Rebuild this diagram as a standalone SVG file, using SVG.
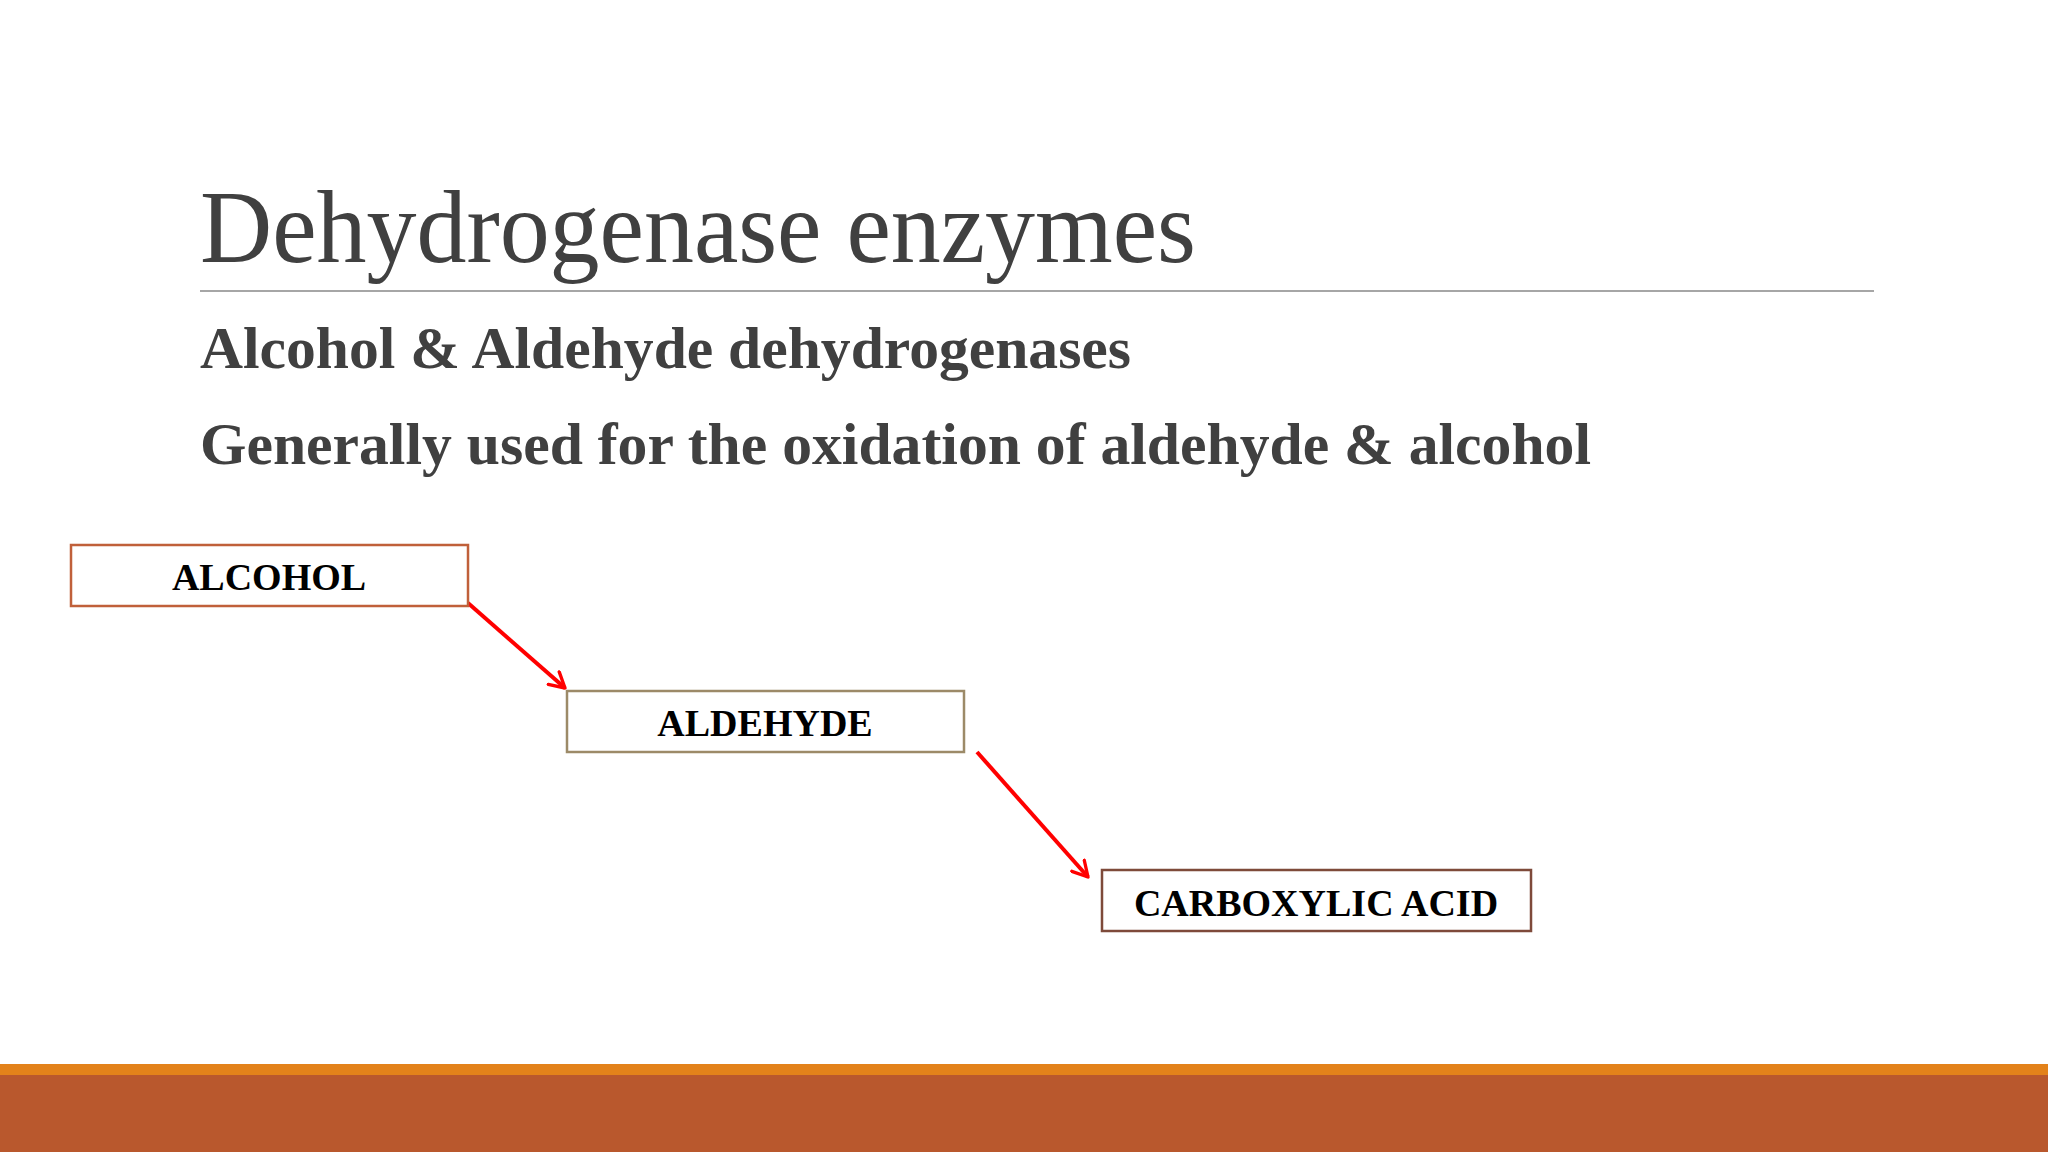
<svg xmlns="http://www.w3.org/2000/svg" width="2048" height="1152" viewBox="0 0 2048 1152">
<style>
.title{font-family:"Liberation Serif","Times New Roman",serif;font-size:104px;fill:#404040}
.sub{font-family:"Liberation Serif","Times New Roman",serif;font-size:60px;font-weight:bold;fill:#404040}
.lbl{font-family:"Liberation Serif","Times New Roman",serif;font-size:38px;font-weight:bold;fill:#000;text-anchor:middle}
.box{fill:#fff;stroke-width:2.5}
.arr{stroke:#ff0000;stroke-width:4;fill:none;marker-end:url(#ah)}
</style>
<defs>
<marker id="ah" viewBox="0 0 12 12" refX="10" refY="6" markerWidth="5" markerHeight="5" orient="auto" markerUnits="strokeWidth">
<path d="M1,1 L10,6 L1,11" fill="none" stroke="#ff0000" stroke-width="2" stroke-linecap="round" stroke-linejoin="round"/>
</marker>
</defs>
<rect width="2048" height="1152" fill="#fff"/>
<g id="header">
<text class="title" x="200" y="262" textLength="996" lengthAdjust="spacingAndGlyphs">Dehydrogenase enzymes</text>
<line x1="200" y1="291" x2="1874" y2="291" stroke="#a6a6a6" stroke-width="2"/>
<text class="sub" x="200" y="368" textLength="931" lengthAdjust="spacingAndGlyphs">Alcohol &amp; Aldehyde dehydrogenases</text>
<text class="sub" x="200" y="464" textLength="1391" lengthAdjust="spacingAndGlyphs">Generally used for the oxidation of aldehyde &amp; alcohol</text>
</g>
<g id="connectors">
<line class="arr" x1="468" y1="603" x2="565" y2="688"/>
<line class="arr" x1="977" y1="752" x2="1088" y2="877"/>
</g>
<g id="node-alcohol">
<rect class="box" x="71" y="545" width="397" height="61" stroke="#c0603a"/>
<text class="lbl" x="269" y="590">ALCOHOL</text>
</g>
<g id="node-aldehyde">
<rect class="box" x="567" y="691" width="397" height="61" stroke="#9c8a68"/>
<text class="lbl" x="765" y="736">ALDEHYDE</text>
</g>
<g id="node-carboxylic">
<rect class="box" x="1102" y="870" width="429" height="61" stroke="#7e4a3a"/>
<text class="lbl" x="1316" y="916">CARBOXYLIC ACID</text>
</g>
<g id="footer">
<rect x="0" y="1064" width="2048" height="11" fill="#e3821a"/>
<rect x="0" y="1075" width="2048" height="77" fill="#b9582d"/>
</g>
</svg>
